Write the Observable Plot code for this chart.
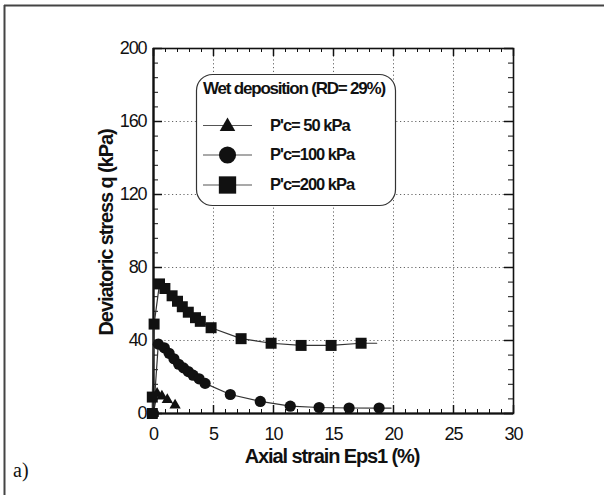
<!DOCTYPE html>
<html>
<head>
<meta charset="utf-8">
<script src="https://cdn.jsdelivr.net/npm/d3@7"></script>
<script src="https://cdn.jsdelivr.net/npm/@observablehq/plot@0.6"></script>
<style>
  html, body { margin: 0; padding: 0; background: #fff; }
  #chart { width: 604px; height: 495px; position: relative; }
</style>
</head>
<body>
<div id="chart"></div>
<script>
// ---- Data ----
const seriesNames = ["P'c= 50 kPa", "P'c=100 kPa", "P'c=200 kPa"];
const seriesSymbols = ["triangle", "circle", "square"];

const strain50 = [0, 0.3, 0.7, 1.15, 1.8];
const q50      = [0, 11, 9.5, 7.5, 4.5];

const strain100 = [0, 0.4, 0.9, 1.3, 1.7, 2.1, 2.5, 2.9, 3.3, 3.8, 4.3, 6.4, 8.9, 11.4, 13.8, 16.3, 18.8];
const q100      = [0, 38, 36, 33, 30, 27, 25, 23, 21, 19, 16.5, 10.4, 6.6, 4, 3.3, 3, 3];
const lineEnd100 = [19.8, 3];

const strain200 = [-0.1, -0.1, 0.05, 0.5, 0.95, 1.55, 2.0, 2.4, 2.9, 3.5, 3.9, 4.8, 7.3, 9.8, 12.3, 14.8, 17.3];
const q200      = [0, 9, 49, 71, 68.5, 64.5, 61.5, 58.5, 55.5, 52.5, 50.5, 47, 41, 38.5, 37.3, 37.3, 38.5];
const lineEnd200 = [18.6, 38.5];

const xTicks = [0, 5, 10, 15, 20, 25, 30];
const yTicks = [0, 40, 80, 120, 160, 200];
const xGrid = [5, 10, 15, 20, 25];
const yGrid = [40, 80, 120, 160];
const xMinor = d3.range(0, 31, 1).filter(v => v % 5 !== 0);
const yMinor = d3.range(0, 201, 8).filter(v => v % 40 !== 0);

const xTitle = "Axial strain Eps1 (%)";
const yTitle = "Deviatoric stress q (kPa)";
const legendTitle = "Wet deposition (RD= 29%)";
const panelLabel = "a)";

// ---- Build tables ----
const pts = (xs, ys) => xs.map((x, i) => ({x, y: ys[i]}));
const d50 = pts(strain50, q50);
const d100 = pts(strain100, q100);
const d200 = pts(strain200, q200);
const l100 = [...d100, {x: lineEnd100[0], y: lineEnd100[1]}];
const l200 = [...d200, {x: lineEnd200[0], y: lineEnd200[1]}];

const W = 604, H = 495;
const mL = 153, mR = 91, mT = 48, mB = 82;
const frameW = W - mL - mR, frameH = H - mT - mB;

const plot = Plot.plot({
  width: W, height: H,
  marginLeft: mL, marginRight: mR, marginTop: mT, marginBottom: mB,
  style: {fontFamily: "'Liberation Sans', Arial, sans-serif", fontSize: "18px", letterSpacing: "-1.1px", color: "#111", background: "transparent"},
  x: {domain: [0, 30]},
  y: {domain: [0, 200]},
  marks: [
    Plot.ruleX(xGrid, {stroke: "#666", strokeDasharray: "1.2,2.6", strokeWidth: 1}),
    Plot.ruleY(yGrid, {stroke: "#666", strokeDasharray: "1.2,2.6", strokeWidth: 1}),
    // inward ticks, bottom & top
    Plot.tickX(xMinor, {x: d => d, insetTop: frameH - 4, stroke: "#111", strokeWidth: 1}),
    Plot.tickX(xTicks, {x: d => d, insetTop: frameH - 8, stroke: "#111", strokeWidth: 1.5}),
    Plot.tickX(xMinor, {x: d => d, insetBottom: frameH - 4, stroke: "#111", strokeWidth: 1}),
    Plot.tickX(xTicks, {x: d => d, insetBottom: frameH - 8, stroke: "#111", strokeWidth: 1.5}),
    // inward ticks, left & right
    Plot.tickY(yMinor, {y: d => d, insetRight: frameW - 5, stroke: "#111", strokeWidth: 1}),
    Plot.tickY(yTicks, {y: d => d, insetRight: frameW - 9, stroke: "#111", strokeWidth: 1.5}),
    Plot.tickY(yMinor, {y: d => d, insetLeft: frameW - 5, stroke: "#111", strokeWidth: 1}),
    Plot.tickY(yTicks, {y: d => d, insetLeft: frameW - 9, stroke: "#111", strokeWidth: 1.5}),
    Plot.frame({stroke: "#111", strokeWidth: 1.6}),
    Plot.ruleX([0], {stroke: "#111", strokeWidth: 2.2}),
    Plot.ruleY([0], {stroke: "#111", strokeWidth: 2.2}),
    // series lines
    Plot.line(d50, {x: "x", y: "y", stroke: "#222", strokeWidth: 1}),
    Plot.line(l100, {x: "x", y: "y", stroke: "#333", strokeWidth: 1.2}),
    Plot.line(l200, {x: "x", y: "y", stroke: "#333", strokeWidth: 1.2}),
    // markers
    Plot.dot(d50, {x: "x", y: "y", symbol: "triangle", r: 4.2, fill: "#111", stroke: "none"}),
    Plot.dot(d100, {x: "x", y: "y", symbol: "circle", r: 5.6, fill: "#111", stroke: "none"}),
    Plot.dot(d200, {x: "x", y: "y", symbol: "square", r: 6.2, fill: "#111", stroke: "none"}),
    // axes
    Plot.axisX(xTicks, {tickSize: 0, tickPadding: 14, label: null, fontSize: 18}),
    Plot.axisY(yTicks, {tickSize: 0, tickPadding: 7, label: null, fontSize: 18})
  ]
});

document.getElementById("chart").appendChild(plot);

const svg = d3.select(plot);
const sans = "'Liberation Sans', Arial, sans-serif";

// outer figure frame (top and left edges visible)
svg.append("line").attr("x1", 4).attr("x2", W).attr("y1", 5.5).attr("y2", 5.5)
  .attr("stroke", "#444").attr("stroke-width", 2);
svg.append("line").attr("x1", 4.5).attr("x2", 4.5).attr("y1", 5).attr("y2", H)
  .attr("stroke", "#444").attr("stroke-width", 2);

// axis titles
svg.append("text").text(xTitle)
  .attr("x", mL + frameW / 2 - 1).attr("y", 463)
  .attr("text-anchor", "middle")
  .attr("font-family", sans)
  .attr("font-weight", "bold").attr("font-size", 20).attr("letter-spacing", "-1.1px")
  .attr("fill", "#111");
svg.append("text").text(yTitle)
  .attr("transform", `translate(113, ${mT + frameH / 2 + 2}) rotate(-90)`)
  .attr("text-anchor", "middle")
  .attr("font-family", sans)
  .attr("font-weight", "bold").attr("font-size", 20).attr("letter-spacing", "-1.1px")
  .attr("fill", "#111");

// panel label
svg.append("text").text(panelLabel)
  .attr("x", 13).attr("y", 477)
  .attr("text-anchor", "start")
  .attr("font-family", "'Liberation Serif', 'Times New Roman', serif")
  .attr("font-size", 20).attr("letter-spacing", "0px")
  .attr("fill", "#111");

// legend
const lg = svg.append("g").attr("text-anchor", "start");
lg.append("rect").attr("x", 196.5).attr("y", 74.5).attr("width", 199).attr("height", 131)
  .attr("rx", 16).attr("ry", 16)
  .attr("fill", "#fff").attr("stroke", "#333").attr("stroke-width", 1.2);
lg.append("text").text(legendTitle)
  .attr("x", 203).attr("y", 93.5)
  .attr("text-anchor", "start")
  .attr("font-family", sans)
  .attr("font-weight", "bold").attr("font-size", 17).attr("letter-spacing", "-1.2px")
  .attr("fill", "#111");
const legendYs = [125.5, 155, 185];
const legendSizes = [105, 230, 300];
seriesNames.forEach((name, i) => {
  const y = legendYs[i];
  lg.append("line").attr("x1", 203).attr("x2", 252).attr("y1", y).attr("y2", y)
    .attr("stroke", "#555").attr("stroke-width", 1.2);
  const sym = {triangle: d3.symbolTriangle, circle: d3.symbolCircle, square: d3.symbolSquare}[seriesSymbols[i]];
  lg.append("path").attr("d", d3.symbol(sym, legendSizes[i])())
    .attr("transform", `translate(227.5, ${y + (i === 0 ? 1 : 0)})`)
    .attr("fill", "#111");
  lg.append("text").text(name)
    .attr("x", 270).attr("y", y + 5)
    .attr("text-anchor", "start")
    .attr("font-family", sans)
    .attr("font-weight", "bold").attr("font-size", 16.5).attr("letter-spacing", "-1px")
    .attr("fill", "#111");
});
</script>
</body>
</html>
